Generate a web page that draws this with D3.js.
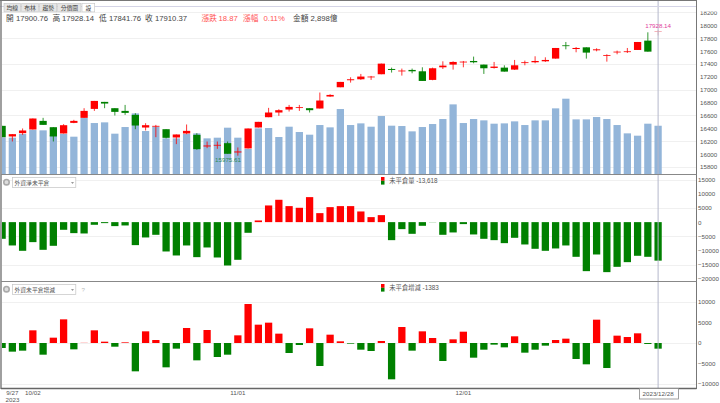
<!DOCTYPE html>
<html>
<head>
<meta charset="utf-8">
<script src="https://cdn.jsdelivr.net/npm/d3@7"></script>
<style>
  html, body { margin: 0; padding: 0; background: #fff; }
  svg { display: block; }
  text { font-family: "Liberation Sans", "Noto Sans CJK TC", sans-serif; font-size: 7.7px; fill: #555; }
  .tick text { font-size: 6.2px; fill: #555; }
</style>
</head>
<body>
<div id="chart"></div>
<script>
const dates = [
  "9/26","9/27","9/28","10/02","10/03","10/04","10/05","10/06","10/11","10/12","10/13",
  "10/16","10/17","10/18","10/19","10/20","10/23","10/24","10/25","10/26","10/27","10/30","10/31",
  "11/01","11/02","11/03","11/06","11/07","11/08","11/09","11/10","11/13","11/14","11/15","11/16","11/17",
  "11/20","11/21","11/22","11/23","11/24","11/27","11/28","11/29","11/30",
  "12/01","12/04","12/05","12/06","12/07","12/08","12/11","12/12","12/13","12/14","12/15",
  "12/18","12/19","12/20","12/21","12/22","12/25","12/26","12/27","12/28"
];
const opens = [
  16439,16274,16325,16382,16516,16418,16320,16485,16563,16702,16811,16713,16671,16609,16413,16429,
  16387,16258,16320,16299,16119,16134,16170,16026,16088,16413,16573,16646,16692,16718,16713,16708,16894,
  17038,17147,17162,17193,17240,17322,17286,17307,17286,17152,17348,17390,17426,17446,17390,17338,17343,
  17312,17415,17426,17441,17483,17689,17632,17658,17612,17529,17581,17586,17617,17762,17900.76
];
const highs = [
  16439,16310,16398,16553,16563,16418,16465,16532,16713,16826,16811,16713,16764,16635,16480,16454,
  16387,16305,16460,16325,16196,16196,16196,16103,16398,16501,16718,16697,16764,16764,16713,16956,16930,
  17121,17193,17245,17214,17405,17343,17328,17328,17348,17343,17441,17441,17446,17514,17390,17431,17379,
  17462,17452,17519,17503,17648,17741,17663,17658,17643,17550,17607,17648,17741,17891,17928.14
];
const lows = [
  16263,16196,16299,16382,16454,16196,16320,16480,16563,16671,16713,16599,16609,16387,16367,16263,
  16243,16155,16310,16067,16093,16082,16005,15975.61,16088,16413,16573,16594,16661,16671,16646,16708,16889,
  17038,17110,17152,17152,17240,17266,17219,17255,17136,17147,17322,17312,17348,17410,17245,17328,17281,
  17307,17379,17410,17431,17483,17627,17581,17483,17596,17436,17550,17570,17617,17591,17841.76
];
const closes = [
  16263,16310,16367,16553,16454,16274,16449,16516,16671,16826,16785,16656,16640,16444,16449,16439,
  16253,16305,16361,16077,16134,16144,16005,16041,16398,16501,16646,16682,16733,16728,16682,16832,16919,
  17121,17162,17204,17204,17405,17307,17297,17286,17136,17333,17374,17431,17436,17426,17333,17359,17281,
  17379,17426,17446,17462,17648,17679,17648,17576,17627,17539,17591,17596,17741,17591,17910.37
];
const amounts = [
  2208,2188,2406,2643,2624,2346,2406,2247,3356,3059,3099,2426,2822,3633,2584,2841,
  2148,2148,2406,2445,2148,2188,2782,2188,1515,2742,2762,2228,2841,2525,2366,2940,2802,
  3891,2940,3039,2841,3475,2901,2881,2564,2822,3000,3297,4168,3059,3297,3218,3020,3039,
  3158,2940,3218,3218,3931,4505,3277,3277,3416,3297,2940,2445,2307,3020,2898
];
const openInterest = [
  -5895,-8250,-10140,-7070,-9790,-8370,-2710,-3890,-4010,-940,-350,-1410,-1180,-8130,-5420,-4480,
  -10375,-11790,-8250,-12380,-8960,-12500,-15330,-13320,-3770,590,5895,7900,5660,5070,8840,3180,5300,
  5660,5660,3770,1770,2475,-6370,-2475,-4130,-1300,-60,-4480,-3650,-700,-4360,-5895,-6370,-7430,
  -5540,-7900,-9430,-10140,-9310,-8250,-12260,-17330,-11440,-17680,-15800,-14150,-11900,-12260,-13618
];
const oiChange = [
  -1220,-2110,-1870,3090,-2850,1300,5770,-1545,40,3090,325,-900,160,-6910,2845,730,
  -5935,-1380,3660,-4230,3170,-3415,-2850,1870,9510,4470,4960,2280,-2440,-490,3580,-5610,2030,
  410,-160,-1630,-1950,490,-8860,3900,-1870,2845,1220,-4390,895,2760,-3580,-1630,-405,-1060,
  1630,-2360,-1630,-650,730,1060,-3900,-5200,5690,-6100,1790,1460,2360,-240,-1383
];
const priceTicks = [15800,16000,16200,16400,16600,16800,17000,17200,17400,17600,17800,18000,18200];
const priceGrid = [15800,16200,16600,17000,17400,17800,18200];
const oiTicks = [15000,10000,5000,0,-5000,-10000,-15000,-20000];
const oiGrid = [15000,5000,-5000,-15000];
const changeTicks = [10000,5000,0,-5000,-10000];
const changeGrid = [10000,0,-10000];
const dateTicks = ["9/27","10/02","11/01","12/01"];
const tabs = ["均線","布林","趨勢","分價圖","設"];

const width = 720;
const height = 403;
const plotRight = 696.5;
const RED = "#ff0000";
const GREEN = "#008000";

const svg = d3.select("#chart").append("svg")
  .attr("width", width)
  .attr("height", height);

svg.append("defs").append("clipPath").attr("id", "plot")
  .append("rect").attr("x", 2).attr("y", 0).attr("width", plotRight - 2).attr("height", 389);

const x = d3.scaleBand()
  .domain(dates)
  .range([-3.025, 663.225])
  .paddingInner(0.29)
  .paddingOuter(0.145);
const cx = d => x(d) + x.bandwidth() / 2;

const yPrice = d3.scaleLinear().domain([15800, 18000]).range([167, 25.3]);
const yAmount = d3.scaleLinear().domain([0, 4505]).range([174.5, 98.7]);
const yOi = d3.scaleLinear().domain([-20000, 15000]).range([278.7, 179.7]);
const yChange = d3.scaleLinear().domain([-10000, 10000]).range([384, 302]);

const plot = svg.append("g").attr("clip-path", "url(#plot)");

// grid lines
function grid(values, y) {
  plot.append("g").selectAll("line").data(values).join("line")
    .attr("x1", 2).attr("x2", plotRight)
    .attr("y1", d => Math.round(y(d)) + 0.5).attr("y2", d => Math.round(y(d)) + 0.5)
    .attr("stroke", "#f0f0f0");
}
grid(priceGrid, yPrice);
grid(oiGrid, yOi);
grid(changeGrid, yChange);

// volume behind the candles
plot.append("g").attr("fill", "#93b5d9")
  .selectAll("rect").data(dates).join("rect")
  .attr("x", d => x(d))
  .attr("width", x.bandwidth())
  .attr("y", (d, i) => yAmount(amounts[i]))
  .attr("height", (d, i) => yAmount(0) - yAmount(amounts[i]));

// crosshair
svg.append("line")
  .attr("x1", cx("12/28")).attr("x2", cx("12/28"))
  .attr("y1", 1).attr("y2", 388)
  .attr("stroke", "#b4b8cc");

// candles
const candle = plot.append("g").selectAll("g").data(dates).join("g")
  .attr("stroke", (d, i) => i === 64 ? "#f4a0a8" : closes[i] >= opens[i] ? RED : GREEN)
  .attr("fill", (d, i) => i === 64 ? "#f4a0a8" : closes[i] >= opens[i] ? RED : GREEN);
candle.append("line")
  .attr("x1", cx).attr("x2", cx)
  .attr("y1", (d, i) => yPrice(highs[i]))
  .attr("y2", (d, i) => yPrice(lows[i]))
  .attr("stroke-width", 0.8);
candle.append("rect")
  .attr("x", d => x(d))
  .attr("width", x.bandwidth())
  .attr("y", (d, i) => yPrice(Math.max(opens[i], closes[i])))
  .attr("height", (d, i) => Math.max(0.8, Math.abs(yPrice(opens[i]) - yPrice(closes[i]))))
  .attr("stroke", "none");

// lower panels
function bars(values, y) {
  plot.append("g").selectAll("rect").data(dates).join("rect")
    .attr("x", d => x(d))
    .attr("width", x.bandwidth())
    .attr("y", (d, i) => y(Math.max(0, values[i])))
    .attr("height", (d, i) => Math.abs(y(values[i]) - y(0)))
    .attr("fill", (d, i) => values[i] >= 0 ? RED : GREEN);
}
bars(openInterest, yOi);
bars(oiChange, yChange);

function rightAxis(y, ticks, left) {
  const g = svg.append("g")
    .attr("transform", `translate(${left},0)`)
    .call(d3.axisRight(y).tickValues(ticks).tickSize(0).tickPadding(0).tickFormat(d3.format("d")));
  g.select(".domain").remove();
  return g;
}
rightAxis(yPrice, priceTicks, 700);
// the topmost price label is cut by the page edge strip in the original
svg.append("rect").attr("x", 697).attr("y", 0).attr("width", 23).attr("height", 11.5).attr("fill", "#fff");
rightAxis(yOi, oiTicks, 698);
rightAxis(yChange, changeTicks, 698);

// frame
const frame = svg.append("g").attr("fill", "none");
frame.append("line").attr("x1", 0).attr("x2", plotRight).attr("y1", 0.5).attr("y2", 0.5).attr("stroke", "#777").attr("stroke-width", 1.2);
frame.append("line").attr("x1", 0).attr("x2", plotRight).attr("y1", 6.5).attr("y2", 6.5).attr("stroke", "#d4d4e6");
frame.append("line").attr("x1", 1).attr("x2", 1).attr("y1", 0).attr("y2", 389).attr("stroke", "#777").attr("stroke-width", 1.4);
frame.append("line").attr("x1", plotRight).attr("x2", plotRight).attr("y1", 0).attr("y2", 389).attr("stroke", "#777").attr("stroke-width", 1);
frame.append("line").attr("x1", 1).attr("x2", plotRight).attr("y1", 174.5).attr("y2", 174.5).attr("stroke", "#888");
frame.append("line").attr("x1", 1).attr("x2", plotRight).attr("y1", 281.5).attr("y2", 281.5).attr("stroke", "#888");
frame.append("line").attr("x1", 1).attr("x2", plotRight).attr("y1", 388.5).attr("y2", 388.5).attr("stroke", "#666").attr("stroke-width", 1.4);

// tabs
const tabX = [4, 21.7, 39.7, 57.7, 82];
const tabW = [16.5, 16.6, 17, 23.3, 12.7];
tabs.forEach((t, i) => {
  svg.append("rect").attr("x", tabX[i]).attr("y", 3.3).attr("width", tabW[i]).attr("height", 8.6)
    .attr("fill", i === 4 ? "#fff" : "#e6e6e6").attr("stroke", "#c4c4c4").attr("stroke-width", 0.6);
  svg.append("text").attr("x", tabX[i] + tabW[i] / 2).attr("y", 9.8).attr("text-anchor", "middle")
    .style("font-size", "5.8px").style("fill", "#444").text(t);
});

// quote line
const quote = [
  ["開", 6, "#444"], ["17900.76", 16, "#444"], ["高", 52.5, "#444"], ["17928.14", 62, "#444"],
  ["低", 99, "#444"], ["17841.76", 109, "#444"], ["收", 145, "#444"], ["17910.37", 155, "#444"],
  ["漲跌", 201.5, "#f55"], ["18.87", 218.5, "#f55"], ["漲幅", 243, "#f55"], ["0.11%", 263.5, "#f55"],
  ["金額", 293, "#444"], ["2,898億", 310.5, "#444"]
];
svg.append("g").selectAll("text").data(quote).join("text")
  .attr("x", d => d[1]).attr("y", 21.3)
  .style("fill", d => d[2])
  .text(d => d[0]);

// high and low labels
svg.append("text").attr("x", cx("12/28")).attr("y", 27.6).attr("text-anchor", "middle")
  .style("font-size", "6.2px").style("fill", "#e0409c").text("17928.14");
svg.append("text").attr("x", 228).attr("y", 161.5).attr("text-anchor", "middle")
  .style("font-size", "6.2px").style("fill", "#2e8b57").text("15975.61");

// indicator pickers and legends
function picker(top, label) {
  svg.append("circle").attr("cx", 6.5).attr("cy", top + 4.7).attr("r", 2.7).attr("fill", "#ddd")
    .attr("stroke", "#aaa").attr("stroke-width", 1.6);
  svg.append("rect").attr("x", 12.5).attr("y", top).attr("width", 63.3).attr("height", 10)
    .attr("fill", "#fff").attr("stroke", "#c4c4c4").attr("stroke-width", 0.7);
  svg.append("text").attr("x", 14.5).attr("y", top + 7).style("font-size", "5.8px").text(label);
  svg.append("path").attr("d", `M71,${top + 4.7}h3l-1.5,1.5z`).attr("fill", "#777");
}
picker(177.5, "外資淨未平倉");
picker(284.5, "外資未平倉增減");
svg.append("text").attr("x", 81.5).attr("y", 291.5).style("fill", "#bbb").style("font-size", "6.2px").text("?");

function legend(top, label) {
  svg.append("rect").attr("x", 381).attr("y", top).attr("width", 3.5).attr("height", 3.8).attr("fill", RED);
  svg.append("rect").attr("x", 381).attr("y", top + 3.8).attr("width", 3.5).attr("height", 3.8).attr("fill", GREEN);
  svg.append("text").attr("x", 389.3).attr("y", top + 5.8).style("font-size", "6.3px").text(label);
}
legend(177, "未平倉量 -13,618");
legend(284, "未平倉增減 -1383");

// date axis
const dateAxis = svg.append("g")
  .attr("transform", "translate(0,389)")
  .call(d3.axisBottom(x).tickValues(dateTicks).tickSize(0).tickPadding(2));
dateAxis.select(".domain").remove();
svg.append("text").attr("x", 12.5).attr("y", 402).attr("text-anchor", "middle").style("font-size", "6.2px").text("2023");

svg.append("rect").attr("x", 639.5).attr("y", 388.5).attr("width", 39).attr("height", 10.5)
  .attr("fill", "#fff").attr("stroke", "#888").attr("stroke-width", 0.8);
svg.append("text").attr("x", cx("12/28")).attr("y", 395.6).attr("text-anchor", "middle").style("font-size", "6.2px").text("2023/12/28");
</script>
</body>
</html>
